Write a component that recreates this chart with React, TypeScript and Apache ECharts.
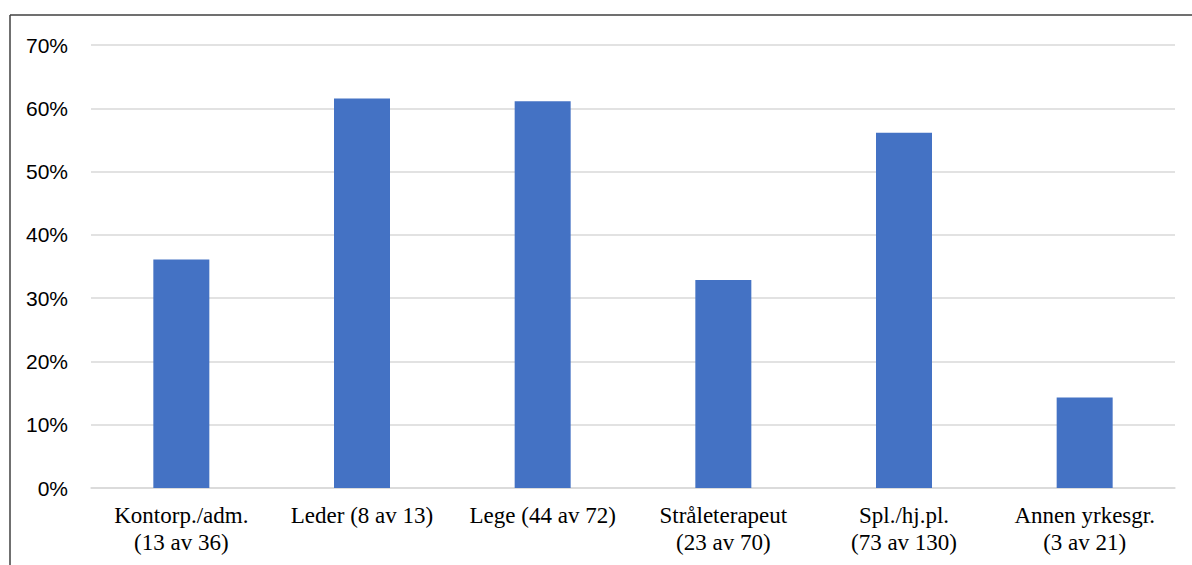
import React, { useEffect, useRef } from "react";
import * as echarts from "echarts";

// Occupational groups, with respondents answering yes / respondents in the group
const groups = ["Kontorp./adm.", "Leder", "Lege", "Stråleterapeut", "Spl./hj.pl.", "Annen yrkesgr."];
const yesCounts = [13, 8, 44, 23, 73, 3];
const groupTotals = [36, 13, 72, 70, 130, 21];
// Labels that fit on one line stay on one line
const oneLine = [false, true, true, false, false, false];
const yTicks = [0, 0.1, 0.2, 0.3, 0.4, 0.5, 0.6, 0.7];

const categoryLabels = groups.map((g, i) => {
  const count = `(${yesCounts[i]} av ${groupTotals[i]})`;
  return oneLine[i] ? `${g} ${count}` : `${g}\n${count}`;
});
const shares = yesCounts.map((n, i) => n / groupTotals[i]);

export default function App() {
  const ref = useRef<HTMLDivElement>(null);

  useEffect(() => {
    if (!ref.current) return;
    const chart = echarts.init(ref.current, null, { renderer: "svg" });
    chart.setOption({
      animation: false,
      backgroundColor: "#ffffff",
      grid: { left: 91, right: 17, top: 45, bottom: 77, containLabel: false },
      xAxis: {
        type: "category",
        data: categoryLabels,
        axisLine: { show: true, lineStyle: { color: "#d9d9d9", width: 1.5 } },
        axisTick: { show: false },
        axisLabel: {
          interval: 0,
          margin: 14,
          color: "#000000",
          fontFamily: "Liberation Serif",
          fontSize: 23,
          lineHeight: 27,
        },
      },
      yAxis: {
        type: "value",
        min: yTicks[0],
        max: yTicks[yTicks.length - 1],
        interval: 0.1,
        axisLine: { show: false },
        axisTick: { show: false },
        splitLine: { lineStyle: { color: "#d9d9d9", width: 1.5 } },
        axisLabel: {
          margin: 23,
          color: "#000000",
          fontFamily: "Liberation Sans",
          fontSize: 21,
          formatter: (v: number) => `${Math.round(v * 100)}%`,
        },
      },
      series: [
        {
          type: "bar",
          data: shares,
          barWidth: 56,
          itemStyle: { color: "#4472c4" },
        },
      ],
      graphic: [
        {
          type: "line",
          shape: { x1: 10, y1: 15, x2: 10, y2: 565 },
          style: { stroke: "#404040", lineWidth: 1.5 },
        },
        {
          type: "line",
          shape: { x1: 10, y1: 15, x2: 1192, y2: 15 },
          style: { stroke: "#404040", lineWidth: 1.5 },
        },
      ],
    });
    return () => chart.dispose();
  }, []);

  return (
    <div
      ref={ref}
      style={{ position: "fixed", left: 0, top: 0, width: 1192, height: 565 }}
    />
  );
}
